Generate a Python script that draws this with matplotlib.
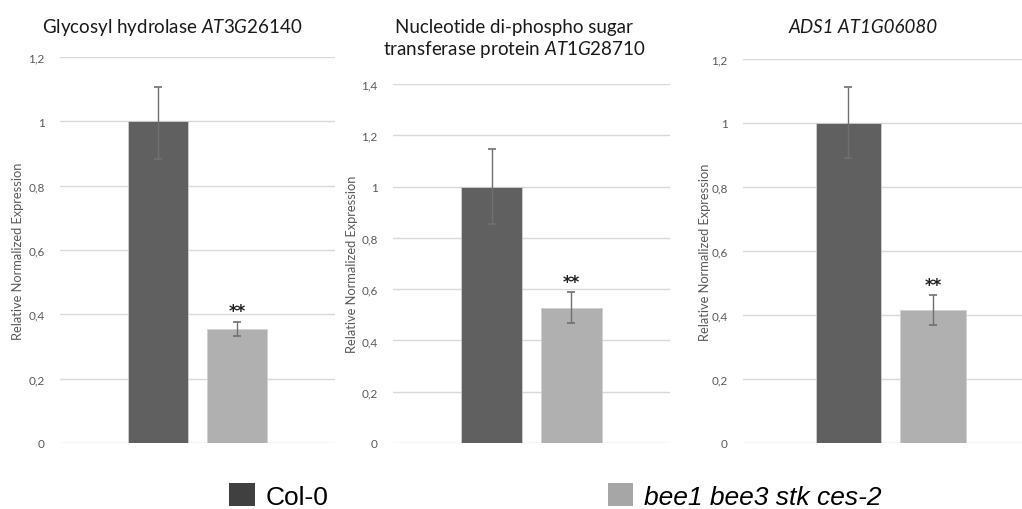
import matplotlib
matplotlib.use('Agg')
import matplotlib.pyplot as plt
from matplotlib.patches import Patch
from matplotlib.ticker import FuncFormatter

plt.rcParams['font.family'] = ['Lato', 'DejaVu Sans']
plt.rcParams['mathtext.fontset'] = 'custom'
plt.rcParams['mathtext.rm'] = 'Lato'
plt.rcParams['mathtext.it'] = 'Lato:italic'

# data
genotypes = ['Col-0', 'bee1 bee3 stk ces-2']
titles = ['Glycosyl hydrolase $AT3G26140$',
          'Nucleotide di-phospho sugar\ntransferase protein $AT1G28710$',
          'ADS1 AT1G06080']
means = [[1.0, 0.355], [1.0, 0.527], [1.0, 0.415]]
err_low = [[0.118, 0.022], [0.145, 0.06], [0.11, 0.045]]
err_high = [[0.107, 0.022], [0.145, 0.062], [0.113, 0.046]]
ymaxs = [1.2, 1.4, 1.2]
signif = ['**', '**', '**']

bar_colors = ['#606060', '#b0b0b0']
legend_colors = ['#404040', '#a6a6a6']

W, H = 1022, 510
fig = plt.figure(figsize=(W / 100, H / 100), dpi=100)

# axes boxes in pixels: left, right, top(y of ymax)
boxes = [(60, 335, 58), (393, 670, 85), (743, 1022, 60)]
bottom_px = 444
title_cx = [172, 514, 863]
title_base = [33, 55, 33]
ylab_x = [24, 358, 711]

def comma(v, pos):
    return ('%g' % v).replace('.', ',')

for i in range(3):
    l, r, t = boxes[i]
    ax = fig.add_axes([l / W, 1 - bottom_px / H, (r - l) / W, (bottom_px - t) / H])
    x = [0, 1]
    ax.bar(x, means[i], width=0.77, color=bar_colors, edgecolor='#d0d0d0', linewidth=0.6, zorder=2)
    ax.errorbar(x, means[i], yerr=[err_low[i], err_high[i]], fmt='none', ecolor='#707070',
                elinewidth=1.0, capsize=3, capthick=1.2, zorder=3)
    top = means[i][1] + err_high[i][1]
    ax.text(1, top + 0.004 * ymaxs[i], signif[i], ha='center', va='bottom', fontsize=12,
            fontweight='bold', family='DejaVu Sans', color='#202020')
    ax.set_xlim(-1.24, 2.24 if i < 2 else 2.05)
    ax.set_ylim(0, ymaxs[i])
    ax.set_yticks([v * 0.2 for v in range(int(round(ymaxs[i] / 0.2)) + 1)])
    ax.yaxis.set_major_formatter(FuncFormatter(comma))
    ax.set_xticks([])
    for s in ax.spines.values():
        s.set_visible(False)
    ax.grid(axis='y', color='#d9d9d9', linewidth=1.0, zorder=0)
    ax.set_axisbelow(True)
    ax.tick_params(axis='y', length=0, pad=11, labelsize=8.5, labelcolor='#595959')
    ax.set_ylabel('Relative Normalized Expression', fontsize=9.3, color='#595959')
    ax.yaxis.set_label_coords((ylab_x[i] - l) / (r - l), 0.5)
    tstyle = 'italic' if i == 2 else 'normal'
    fig.text(title_cx[i] / W, 1 - title_base[i] / H, titles[i], ha='center', va='baseline',
             fontsize=13.5, color='#1a1a1a', style=tstyle, linespacing=1.2)

handles = [Patch(facecolor=c, edgecolor='none') for c in legend_colors]
leg = fig.legend(handles, genotypes, loc='upper left', bbox_to_anchor=(229 / W, 1 - 484 / H),
                 ncol=2, frameon=False, borderpad=0, borderaxespad=0,
                 handlelength=0.97, handleheight=0.97, handletextpad=0.4, columnspacing=10.6,
                 prop={'family': 'Liberation Sans', 'size': 19})
leg.get_texts()[1].set_style('italic')

fig.savefig('out.png', dpi=100)
